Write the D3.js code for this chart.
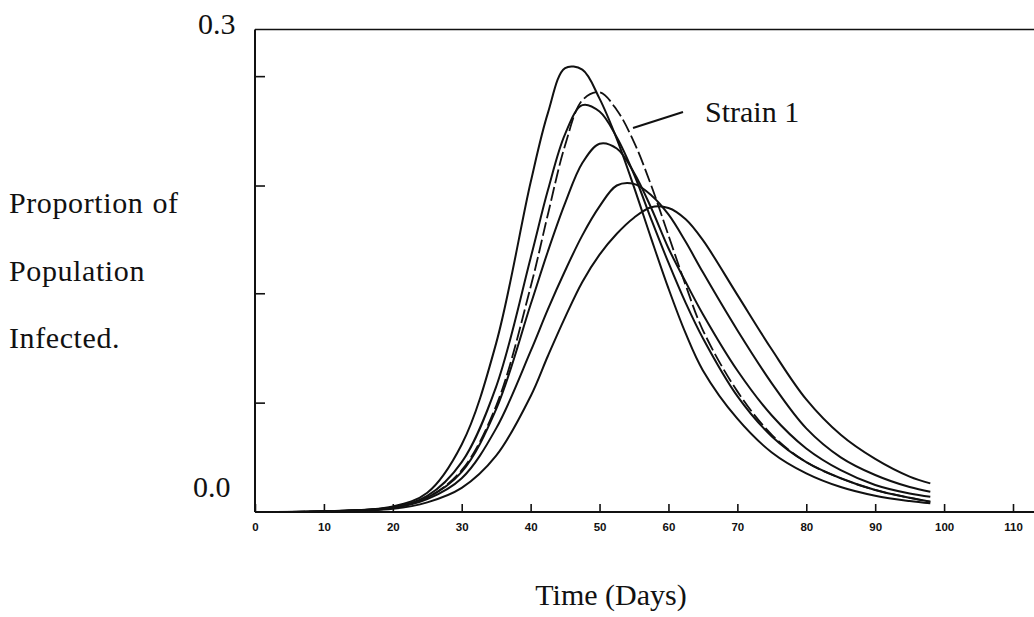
<!DOCTYPE html>
<html>
<head>
<meta charset="utf-8">
<script src="https://cdn.jsdelivr.net/npm/d3@7"></script>
<style>
  body { margin: 0; background: #fff; }
  svg { display: block; }
  .big { font-family: "Liberation Serif", "DejaVu Serif", serif; font-size: 30px; fill: #111; }
  .ylab { letter-spacing: 0.6px; word-spacing: 1px; }
  .tick text { font-family: "Liberation Sans", sans-serif; font-weight: bold; font-size: 11.5px; fill: #111; }
</style>
</head>
<body>
<script>
// days sampled along every curve
const days = [0, 10, 20, 25, 30, 35, 40, 42.5, 45, 47.5, 50, 52.5, 55, 57.5, 60, 62.5, 65, 70, 75, 80, 85, 90, 95, 98];

// solid curves (earliest peak first)
const curveA = [0, 0.0005, 0.0035, 0.012, 0.042, 0.105, 0.205, 0.248, 0.276, 0.275, 0.257, 0.232, 0.202, 0.170, 0.139, 0.111, 0.088, 0.058, 0.037, 0.024, 0.0155, 0.0101, 0.0068, 0.0054];
const curveB = [0, 0.0004, 0.003, 0.010, 0.031, 0.078, 0.158, 0.200, 0.235, 0.253, 0.249, 0.233, 0.210, 0.182, 0.155, 0.130, 0.108, 0.072, 0.047, 0.031, 0.021, 0.0137, 0.0088, 0.0064];
const curveC = [0, 0.0004, 0.0028, 0.009, 0.025, 0.064, 0.129, 0.162, 0.192, 0.217, 0.229, 0.226, 0.211, 0.189, 0.164, 0.143, 0.123, 0.088, 0.060, 0.0395, 0.026, 0.0168, 0.0115, 0.0095];
const curveD = [0, 0.0003, 0.0025, 0.008, 0.021, 0.052, 0.100, 0.126, 0.150, 0.172, 0.190, 0.203, 0.204, 0.197, 0.185, 0.168, 0.149, 0.113, 0.080, 0.052, 0.034, 0.023, 0.0155, 0.0126];
const curveE = [0, 0.0003, 0.002, 0.006, 0.015, 0.035, 0.072, 0.097, 0.121, 0.143, 0.160, 0.173, 0.183, 0.1895, 0.189, 0.182, 0.169, 0.135, 0.101, 0.070, 0.048, 0.033, 0.022, 0.0178];
// dashed curve
const strain1 = [0, 0.0004, 0.0028, 0.009, 0.026, 0.066, 0.140, 0.185, 0.228, 0.256, 0.261, 0.250, 0.230, 0.203, 0.172, 0.141, 0.113, 0.075, 0.048, 0.031, 0.021, 0.0137, 0.0088, 0.0064];

const xTicks = [0, 10, 20, 30, 40, 50, 60, 70, 80, 90, 100, 110];
const yTicks = [0.068, 0.136, 0.203, 0.271];

const W = 1034, H = 617;
const padL = 255, padR = 1034, padT = 29.5, padB = 512;

const svg = d3.select("body").append("svg")
    .attr("width", W)
    .attr("height", H);

const x = d3.scaleLinear().domain([0, 110]).range([padL, 1013]);
const y = d3.scaleLinear().domain([0, 0.3]).range([padB, padT]);

// frame: top line, left axis, baseline
svg.append("line")
    .attr("x1", padL).attr("x2", padR)
    .attr("y1", padT).attr("y2", padT)
    .attr("stroke", "#111").attr("stroke-width", 1.6);

svg.append("line")
    .attr("x1", padL).attr("x2", padL)
    .attr("y1", padT).attr("y2", padB)
    .attr("stroke", "#111").attr("stroke-width", 2);

svg.append("line")
    .attr("x1", padL).attr("x2", padR)
    .attr("y1", padB).attr("y2", padB)
    .attr("stroke", "#111").attr("stroke-width", 2.2);

const xAxis = svg.append("g")
    .attr("transform", "translate(0," + padB + ")")
    .call(d3.axisBottom(x).tickValues(xTicks).tickSize(-8).tickPadding(11).tickSizeOuter(0));
xAxis.select(".domain").remove();
xAxis.selectAll(".tick line").attr("stroke", "#111").attr("stroke-width", 1.6);

const yAxis = svg.append("g")
    .attr("transform", "translate(" + padL + ",0)")
    .call(d3.axisRight(y).tickValues(yTicks).tickSize(10).tickFormat("").tickSizeOuter(0));
yAxis.select(".domain").remove();
yAxis.selectAll(".tick line").attr("stroke", "#111").attr("stroke-width", 1.6);

// curves
const line = d3.line()
    .x(function (d) { return x(d[0]); })
    .y(function (d) { return y(d[1]); })
    .curve(d3.curveCatmullRom.alpha(0.5));

const solids = [curveA, curveB, curveC, curveD, curveE];

svg.selectAll("path.solid")
    .data(solids)
    .enter().append("path")
    .attr("class", "solid")
    .attr("d", function (vals) { return line(days.map(function (t, i) { return [t, vals[i]]; })); })
    .attr("fill", "none")
    .attr("stroke", "#111")
    .attr("stroke-width", 2);

svg.append("path")
    .attr("d", line(days.map(function (t, i) { return [t, strain1[i]]; })))
    .attr("fill", "none")
    .attr("stroke", "#111")
    .attr("stroke-width", 1.8)
    .attr("stroke-dasharray", "14,4");

// labels
svg.append("text").attr("class", "big").attr("x", 198).attr("y", 34).text("0.3");
svg.append("text").attr("class", "big").attr("x", 193).attr("y", 497).text("0.0");

const yLabel = ["Proportion of", "Population", "Infected."];
svg.selectAll("text.ylab")
    .data(yLabel)
    .enter().append("text")
    .attr("class", "big ylab")
    .attr("x", 9)
    .attr("y", function (d, i) { return 213 + i * 67.5; })
    .text(function (d) { return d; });

svg.append("text").attr("class", "big")
    .attr("x", 611).attr("y", 605)
    .attr("text-anchor", "middle")
    .text("Time (Days)");

// Strain 1 callout
svg.append("line")
    .attr("x1", 633).attr("y1", 128)
    .attr("x2", 683).attr("y2", 112)
    .attr("stroke", "#111").attr("stroke-width", 2);
svg.append("text").attr("class", "big").attr("x", 705).attr("y", 122).text("Strain 1");
</script>
</body>
</html>
